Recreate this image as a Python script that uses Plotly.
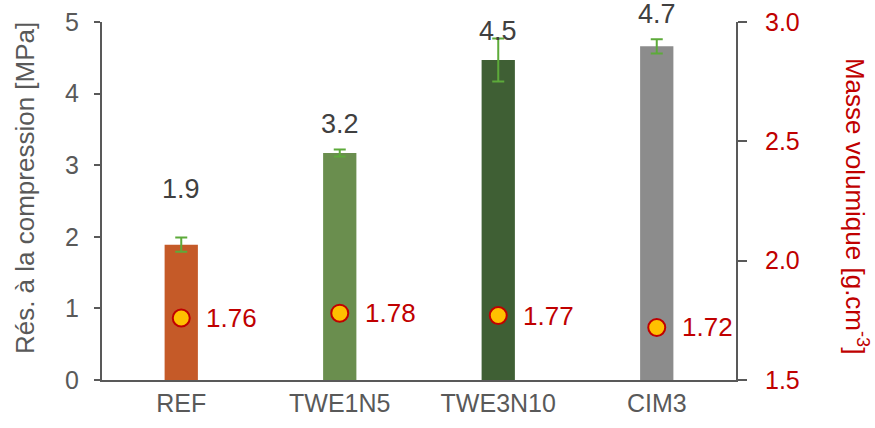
import plotly.graph_objects as go

# ---- data ----
categories = ["REF", "TWE1N5", "TWE3N10", "CIM3"]
strength_mpa = [1.89, 3.17, 4.47, 4.66]
strength_err = [0.10, 0.05, 0.30, 0.10]
density = [1.76, 1.78, 1.77, 1.72]
left_ticks = [0, 1, 2, 3, 4, 5]
right_ticks = [1.5, 2.0, 2.5, 3.0]

# ---- style ----
bar_colors = ["#C55A28", "#6A8E4E", "#3F5F34", "#8C8C8C"]
label_shift_px = [56, 29, 29, 32]
FONT = "Liberation Sans, Arial, sans-serif"
GREY = "#595959"
RED = "#C00000"

fig = go.Figure()
fig.add_trace(go.Bar(
    x=categories, y=strength_mpa, width=0.21,
    marker=dict(color=bar_colors, line=dict(width=0)),
    error_y=dict(type="data", array=strength_err, visible=True,
                 color="#5DAA3A", thickness=2, width=6),
    yaxis="y", showlegend=False, hoverinfo="skip",
))
fig.add_trace(go.Scatter(
    x=categories, y=density, mode="markers", yaxis="y2",
    marker=dict(size=17, color="#FFC000", line=dict(color=RED, width=2)),
    showlegend=False, hoverinfo="skip",
))

for c, v, s in zip(categories, strength_mpa, label_shift_px):
    fig.add_annotation(x=c, y=v, xref="x", yref="y", text=f"{v:.1f}",
                       showarrow=False, yshift=s, yanchor="middle",
                       font=dict(family=FONT, size=27, color="#404040"))
for c, d in zip(categories, density):
    fig.add_annotation(x=c, y=d, xref="x", yref="y2", text=f"{d:.2f}",
                       showarrow=False, xanchor="left", xshift=23, yanchor="middle",
                       font=dict(family=FONT, size=26, color=RED))

fig.add_annotation(xref="paper", yref="paper", x=-0.1215, y=0.536,
                   text="Rés. à la compression [MPa]", textangle=-90,
                   showarrow=False, xanchor="center", yanchor="middle",
                   font=dict(family=FONT, size=26, color=GREY))
fig.add_annotation(xref="paper", yref="paper", x=1.191, y=0.486,
                   text="Masse volumique [g.cm<sup>-3</sup>]", textangle=90,
                   showarrow=False, xanchor="center", yanchor="middle",
                   font=dict(family=FONT, size=26, color=RED))

fig.update_layout(
    width=875, height=428,
    margin=dict(l=102, r=139, t=22, b=48, autoexpand=False),
    paper_bgcolor="white", plot_bgcolor="white",
    xaxis=dict(range=[-0.5, 3.5], showline=True, linecolor=GREY, linewidth=2,
               ticks="", showgrid=False, zeroline=False, automargin=False,
               tickfont=dict(family=FONT, size=25, color=GREY),
               ticklabelstandoff=0),
    yaxis=dict(range=[0, 5], tickvals=left_ticks, showline=True, linecolor=GREY,
               linewidth=2, ticks="outside", ticklen=6, tickwidth=2, tickcolor=GREY,
               showgrid=False, zeroline=False, automargin=False,
               tickfont=dict(family=FONT, size=25, color=GREY),
               ticklabelstandoff=10),
    yaxis2=dict(range=[1.5, 3.0], tickvals=right_ticks, tickformat=".1f",
                overlaying="y", side="right", showline=True, linecolor=GREY,
                linewidth=2, ticks="outside", ticklen=9, tickwidth=2, tickcolor=GREY,
                showgrid=False, zeroline=False, automargin=False,
                tickfont=dict(family=FONT, size=25, color=RED),
                ticklabelstandoff=13),
)

fig.write_html("out.html", config={"displayModeBar": False, "staticPlot": True},
               post_script="document.body.style.margin='0';document.body.style.padding='0';document.body.style.overflow='hidden';")
